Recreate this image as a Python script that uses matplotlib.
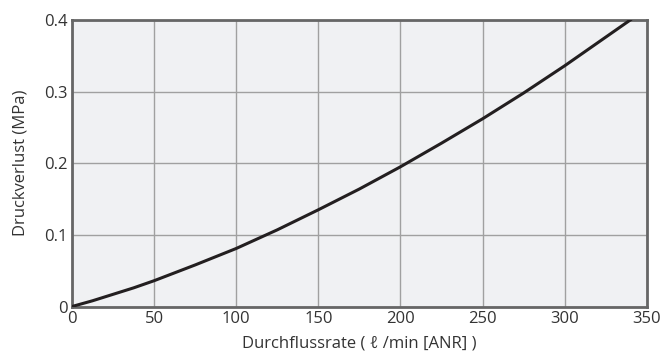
import matplotlib
matplotlib.use('Agg')
import matplotlib.pyplot as plt

plt.rcParams.update({
    'font.family': ['Open Sans', 'DejaVu Sans'],
    'font.size': 12,
})

# Durchflussrate (l/min [ANR]) vs. Druckverlust (MPa)
flow = [0, 12.5, 25, 37.5, 50, 75, 100, 125, 150, 175, 200, 225, 250, 275, 300, 325, 340]
pressure = [0, 0.008, 0.017, 0.026, 0.036, 0.058, 0.081, 0.107, 0.135, 0.164, 0.195,
            0.228, 0.262, 0.298, 0.336, 0.376, 0.4]

x_ticks = [0, 50, 100, 150, 200, 250, 300, 350]
y_ticks = [0, 0.1, 0.2, 0.3, 0.4]
y_tick_labels = ['0', '0.1', '0.2', '0.3', '0.4']

fig = plt.figure(figsize=(6.6, 3.56), dpi=100)
ax = fig.add_axes([0.109, 0.139, 0.871, 0.805])
ax.set_facecolor('#f0f1f3')

ax.plot(flow, pressure, color='#231f20', linewidth=2.2, solid_joinstyle='round', zorder=3)

ax.set_xlim(0, 350)
ax.set_ylim(0, 0.4)
ax.set_xticks(x_ticks)
ax.set_yticks(y_ticks)
ax.set_yticklabels(y_tick_labels)
ax.grid(True, color='#a0a0a0', linewidth=1.0)
ax.tick_params(length=0, pad=3, colors='#333333', labelsize=12)

for s in ax.spines.values():
    s.set_color('#666666')
    s.set_linewidth(2)

ax.set_xlabel('Durchflussrate ( ℓ /min [ANR] )', color='#333333', fontsize=12, labelpad=6)
ax.set_ylabel('Druckverlust (MPa)', color='#333333', fontsize=12, labelpad=11)

fig.savefig('out.png', dpi=100, facecolor='white')
